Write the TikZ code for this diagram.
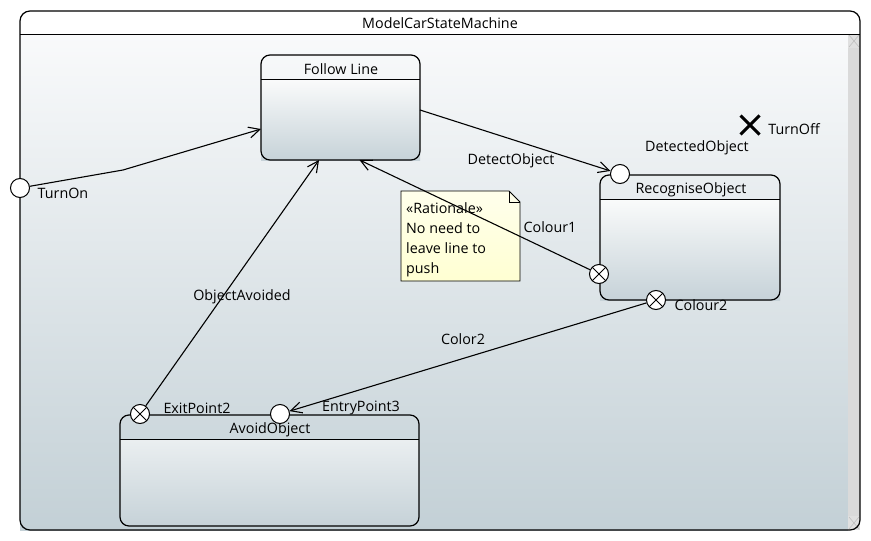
\documentclass[tikz,border=0pt]{standalone}
\usepackage{fontspec}
\setmainfont{Open Sans}
\usetikzlibrary{arrows.meta,shapes.misc,calc}
\definecolor{bgtop}{HTML}{F9FAFB}
\definecolor{bgbot}{HTML}{C3D0D6}
\definecolor{sttop}{HTML}{FAFBFB}
\definecolor{stbot}{HTML}{C6D2D8}
\definecolor{notetop}{HTML}{FFFFEC}
\definecolor{notebot}{HTML}{FFFFD2}
\definecolor{scrollc}{HTML}{DADADA}
\newcommand\dfont{\fontsize{14.3}{17}\selectfont}
\tikzset{
  lbl/.style={inner sep=0pt, font=\dfont},
  statebox/.style={draw, line width=1.2pt, rounded corners=9pt, inner sep=0pt, outer sep=0pt, anchor=north west},
  hline/.style={line width=0.9pt},
  entryp/.style={circle, draw, fill=white, line width=1pt, minimum size=19pt, inner sep=0pt},
  exitp/.style={entryp, path picture={\draw[line width=1pt] (path picture bounding box.north west) -- (path picture bounding box.south east) (path picture bounding box.south west) -- (path picture bounding box.north east);}},
  tr/.style={line width=1.1pt, -{Straight Barb[length=11pt,width=11pt,line width=1.1pt]}},
}
\begin{document}
\begin{tikzpicture}[x=1pt,y=-1pt]
\useasboundingbox (0,0) rectangle (871,541);
% outer frame background
\shade[top color=bgtop, bottom color=bgbot] (20,34) rectangle (848,530);
\fill[scrollc] (848,34) rectangle (860,530);
\fill[black!12] (848,34) rectangle (860,48);
\draw[black!25, line width=0.6pt] (849,35) -- (859,47) (859,35) -- (849,47);
\fill[black!12] (848,516) rectangle (860,530);
\draw[black!25, line width=0.6pt] (849,517) -- (859,529) (859,517) -- (849,529);
\node[statebox, rounded corners=10pt, minimum width=840pt, minimum height=519pt] (sm) at (20,11) {};
\draw[hline] (20,34) -- (860,34);
\node[lbl] (smtitle) at (440,23.5) {ModelCarStateMachine};

% Follow Line
\shade[top color=sttop, bottom color=stbot] (261,79) rectangle (420,160);
\node[statebox, minimum width=159pt, minimum height=105pt] (fl) at (261,55) {};
\draw[hline] (261,79) -- (420,79);
\node[lbl] (fltitle) at (341,69.5) {Follow Line};

% RecogniseObject
\shade[top color=sttop, bottom color=stbot] (600,199) rectangle (780,300);
\node[statebox, minimum width=180pt, minimum height=125pt] (ro) at (600,175) {};
\draw[hline] (600,199) -- (780,199);
\node[lbl] (rotitle) at (691,190) {RecogniseObject};

% AvoidObject
\shade[top color=sttop!70!stbot, bottom color=stbot] (120,439) rectangle (419,526);
\node[statebox, minimum width=299pt, minimum height=111pt] (ao) at (120,415) {};
\draw[hline] (120,439) -- (419,439);
\node[lbl] (aotitle) at (270,430) {AvoidObject};

% Note
\shade[top color=notetop, bottom color=notebot] (401,191) -- (509,191) -- (520,202) -- (520,281) -- (401,281) -- cycle;
\draw[line width=0.9pt] (401,191) -- (509,191) -- (520,202) -- (520,281) -- (401,281) -- cycle;
\draw[line width=0.9pt] (509,191) -- (509,202) -- (520,202);
\node[lbl, anchor=north west, align=left, font=\fontsize{14.3}{20}\selectfont] (note) at (406,202) {«Rationale»\\No need to\\leave line to\\push};

% pseudostates
\node[entryp] (turnon) at (20,188) {};
\node[entryp] (det) at (620,174) {};
\node[exitp] (c1) at (599,274) {};
\node[exitp] (c2) at (656,300) {};
\node[exitp] (ep2) at (140,414) {};
\node[entryp] (en3) at (280,414) {};
\node[cross out, draw, line width=3pt, minimum size=16pt, inner sep=0pt] (off) at (750,125) {};

% labels
\node[lbl] (lturnon) at (63,193) {TurnOn};
\node[lbl] (ldet) at (697,148) {DetectedObject};
\node[lbl] (loff) at (794,129.5) {TurnOff};
\node[lbl] (lc1) at (550,227.5) {Colour1};
\node[lbl] (lc2) at (701,305.5) {Colour2};
\node[lbl] (lep2) at (197,408) {ExitPoint2};
\node[lbl] (len3) at (361,408) {EntryPoint3};
\node[lbl] (tdet) at (511,161) {DetectObject};
\node[lbl] (tavoid) at (242,296.5) {ObjectAvoided};
\node[lbl] (tcol2) at (463,339.5) {Color2};

% transitions
\coordinate (bend) at (123,170);
\draw[tr] (turnon) -- (bend) -- ([yshift=-21.5pt]fl.west);
\draw[tr] ([yshift=-2.5pt]fl.east) -- (det);
\draw[tr] (c1) -- ([xshift=19pt]fl.south);
\draw[tr] (ep2) -- ([xshift=-21.5pt]fl.south);
\draw[tr] (c2) -- (en3);
\end{tikzpicture}
\end{document}
